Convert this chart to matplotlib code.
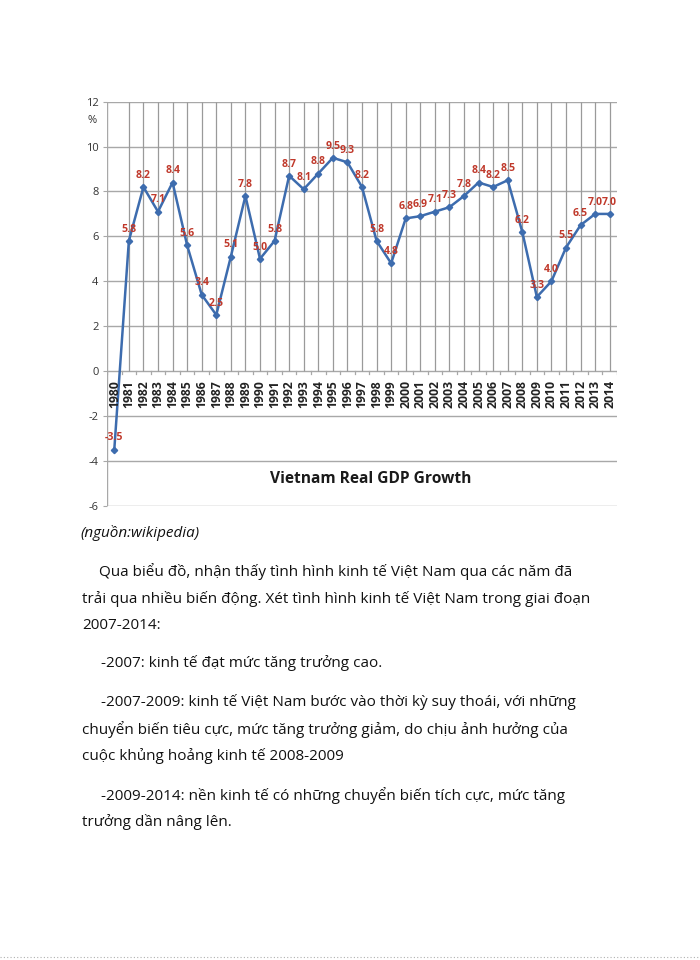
import matplotlib
matplotlib.use("Agg")
import matplotlib.pyplot as plt
from matplotlib.lines import Line2D

plt.rcParams['font.family'] = ['Open Sans', 'DejaVu Sans']

years = list(range(1980, 2015))
growth = [-3.5, 5.8, 8.2, 7.1, 8.4, 5.6, 3.4, 2.5, 5.1, 7.8, 5.0, 5.8, 8.7, 8.1, 8.8,
          9.5, 9.3, 8.2, 5.8, 4.8, 6.8, 6.9, 7.1, 7.3, 7.8, 8.4, 8.2, 8.5, 6.2, 3.3,
          4.0, 5.5, 6.5, 7.0, 7.0]
yticks = [-6, -4, -2, 0, 2, 4, 6, 8, 10, 12]
title = "Vietnam Real GDP Growth"

W, H = 700, 960
fig = plt.figure(figsize=(W / 100, H / 100), dpi=100)
fig.patch.set_facecolor('white')

def fx(px):
    return px / W

def fy(py):
    return 1 - py / H

ax_l, ax_r, ax_t, ax_b = 107, 617, 101.7, 505.7
ax = fig.add_axes([fx(ax_l), fy(ax_b), (ax_r - ax_l) / W, (ax_b - ax_t) / H])
ax.set_xlim(years[0] - 0.5, years[-1] + 0.5)
ax.set_ylim(-6, 12)

grid_c = '#a8a8a8'
for s in ax.spines.values():
    s.set_visible(False)
for v in yticks:
    ax.axhline(v, color=grid_c, lw=1.0, zorder=1)
ax.axvline(years[0] - 0.5, color=grid_c, lw=1.0, zorder=1)
ax.vlines(years[1:], 0, 12, color='#9a9a9a', lw=0.9, zorder=1)
# category tick marks below zero line
for b in range(len(years) + 1):
    ax.plot([years[0] - 0.5 + b] * 2, [0, -0.15], color=grid_c, lw=0.9, zorder=1)

ax.set_xticks([])
ax.set_yticks(yticks)
ax.set_yticklabels([str(v) for v in yticks], fontsize=8, color='#333333')
ax.tick_params(axis='y', length=3, color=grid_c, pad=3)

ax.plot(years, growth, color='#3d6cae', lw=1.8, marker='D', markersize=3.2,
        markerfacecolor='#3d6cae', markeredgecolor='#3d6cae', zorder=3)

for yr, g in zip(years, growth):
    ax.annotate(f"{g:.1f}", (yr, g), xytext=(0, 4.5), textcoords='offset points',
                ha='center', va='bottom', fontsize=7.6, fontweight='bold',
                color='#c0392b', zorder=4)
    ax.text(yr, -0.4, str(yr), rotation=90, ha='center', va='top',
            fontsize=8.8, fontweight='bold', color='#222222', zorder=4)

ax.text(-0.02, 11.15, '%', transform=ax.get_yaxis_transform(), ha='right',
        va='center', fontsize=8, color='#333333')
ax.text(0.518, -4.8, title, transform=ax.get_yaxis_transform(), ha='center',
        va='center', fontsize=11.2, fontweight='bold', color='#1a1a1a')

# body text
fs = 11.0
lines = [
    (80, 533, "(nguồn:wikipedia)", 'italic'),
    (99, 571.5, "Qua biểu đồ, nhận thấy tình hình kinh tế Việt Nam qua các năm đã", 'normal'),
    (82, 599, "trải qua nhiều biến động. Xét tình hình kinh tế Việt Nam trong giai đoạn", 'normal'),
    (82, 625.5, "2007-2014:", 'normal'),
    (101, 663, "-2007: kinh tế đạt mức tăng trưởng cao.", 'normal'),
    (101, 702, "-2007-2009: kinh tế Việt Nam bước vào thời kỳ suy thoái, với những", 'normal'),
    (82, 729, "chuyển biến tiêu cực, mức tăng trưởng giảm, do chịu ảnh hưởng của", 'normal'),
    (82, 756, "cuộc khủng hoảng kinh tế 2008-2009", 'normal'),
    (101, 795, "-2009-2014: nền kinh tế có những chuyển biến tích cực, mức tăng", 'normal'),
    (82, 822, "trưởng dần nâng lên.", 'normal'),
]
for x, y, t, st in lines:
    fig.text(fx(x), fy(y), t, ha='left', va='center', fontsize=fs, style=st,
             color='#111111')

fig.add_artist(Line2D([0, 1], [fy(957), fy(957)], transform=fig.transFigure,
                      color='#b0b0b0', lw=0.8, linestyle=(0, (1, 2))))

fig.savefig('out.png', dpi=100, facecolor='white')
